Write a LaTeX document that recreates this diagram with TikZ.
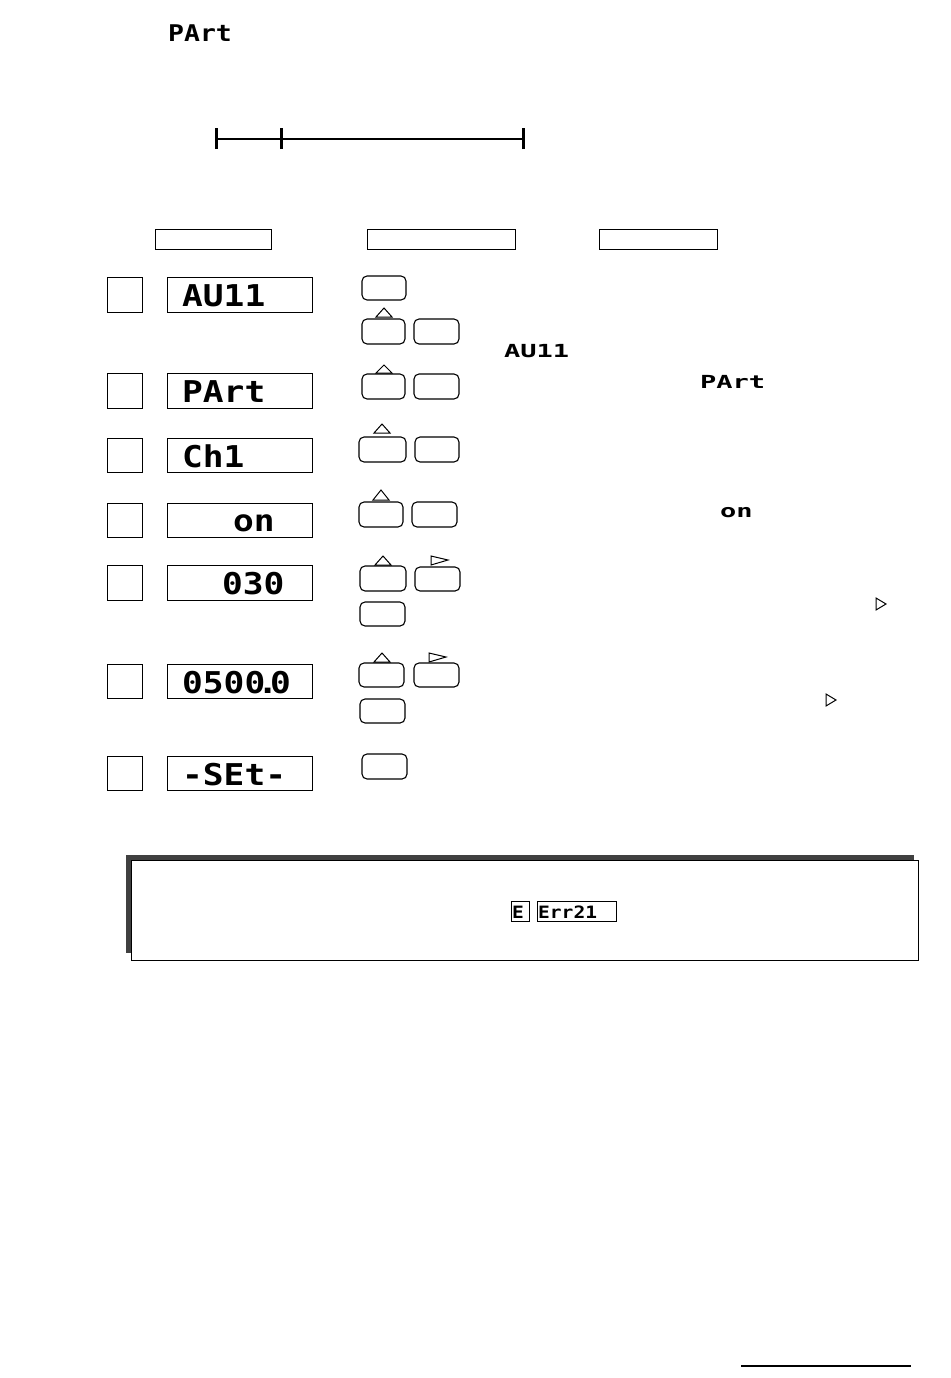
\documentclass[tikz,border=0pt]{standalone}
\usepackage{fontspec}
\usetikzlibrary{fit}
\newfontfamily\segfont[FakeStretch=1.15]{DejaVu Sans Mono}
\newfontfamily\segwide[FakeStretch=1.5]{DejaVu Sans Mono}
\begin{document}
\begin{tikzpicture}[x=1pt,y=-1pt,
  box/.style={draw, line width=1pt, inner sep=0pt},
  btn/.style={draw, line width=1.1pt, rounded corners=5pt, inner sep=0pt},
  tri/.style={draw, line width=1pt, line join=miter},
  segbig/.style={inner sep=0pt, anchor=base west, font={\segfont\bfseries\fontsize{30pt}{30pt}\selectfont}},
  segtop/.style={inner sep=0pt, anchor=base west, font={\segfont\bfseries\fontsize{23pt}{23pt}\selectfont}},
  segsmall/.style={inner sep=0pt, anchor=base west, font={\segwide\bfseries\fontsize{18pt}{18pt}\selectfont}},
  segtiny/.style={inner sep=0pt, anchor=base west, font={\segfont\bfseries\fontsize{17pt}{17pt}\selectfont}},
]
\useasboundingbox (0,0) rectangle (950,1378);

% title
\node[segtop] (title) at (168,42) {PArt};

% scale bar
\coordinate (s1) at (216,139);
\coordinate (s2) at (281,139);
\coordinate (s3) at (523,139);
\draw[line width=2pt] (s1) -- (s3);
\foreach \c in {s1,s2,s3}{
  \draw[line width=3pt] ([yshift=-10pt]\c) -- ([yshift=11pt]\c);
}

% header boxes
\node[box, fit={(155,229) (271,249)}] (h1) {};
\node[box, fit={(367,229) (515,249)}] (h2) {};
\node[box, fit={(599,229) (717,249)}] (h3) {};

% step squares and displays
\foreach \n/\ya/\yb in {1/277/312, 2/373/408, 3/438/472, 4/503/537, 5/565/600, 6/664/698, 7/756/790}{
  \node[box, fit={(107,\ya) (142,\yb)}] (sq\n) {};
  \node[box, fit={(167,\ya) (312,\yb)}] (disp\n) {};
}
\node[segbig] (t1) at (182,306) {AU11};
\node[segbig] (t2) at (182,402) {PArt};
\node[segbig] (t3) at (182,467) {Ch1};
\node[segbig] (t4) at (233,531) {on};
\node[segbig] (t5) at (222,594) {030};
\node[segbig] (t6) at (182,693) {0500\kern-8pt.\kern-8pt0};
\node[segbig] (t7) at (182,785) {-SEt-};

% buttons
\node[btn, fit={(362,276) (406,300)}] (b1) {};
\node[btn, fit={(362,319) (405,344)}] (b2a) {};
\node[btn, fit={(414,319) (459,344)}] (b2b) {};
\node[btn, fit={(362,374) (405,399)}] (b3a) {};
\node[btn, fit={(414,374) (459,399)}] (b3b) {};
\node[btn, fit={(359,437) (406,462)}] (b4a) {};
\node[btn, fit={(415,437) (459,462)}] (b4b) {};
\node[btn, fit={(359,502) (403,527)}] (b5a) {};
\node[btn, fit={(412,502) (457,527)}] (b5b) {};
\node[btn, fit={(360,566) (406,591)}] (b6a) {};
\node[btn, fit={(415,567) (460,591)}] (b6b) {};
\node[btn, fit={(360,602) (405,626)}] (b6c) {};
\node[btn, fit={(359,663) (404,687)}] (b7a) {};
\node[btn, fit={(414,663) (459,687)}] (b7b) {};
\node[btn, fit={(360,699) (405,723)}] (b7c) {};
\node[btn, fit={(362,754) (407,779)}] (b8) {};

% up triangles
\foreach \cx/\ty/\by in {384/308/317, 384/365/373, 382/424/433, 381/490/500, 383/556/565, 382/653/662}{
  \draw[tri] (\cx-8,\by) -- (\cx,\ty) -- (\cx+8,\by) -- cycle;
}
% right triangles
\draw[tri] (431,556) -- (448,560) -- (431,565) -- cycle;
\draw[tri] (429,653) -- (446,657) -- (429,662) -- cycle;
\draw[tri] (876,598) -- (886,604) -- (876,610) -- cycle;
\draw[tri] (826,694) -- (836,700) -- (826,706) -- cycle;

% inline display texts
\node[segsmall] (i1) at (504,357) {AU11};
\node[segsmall] (i2) at (700,388) {PArt};
\node[segsmall] (i3) at (720,517) {on};

% note box
\node[fill=black!75, inner sep=0pt, fit={(126,855) (914,953)}] (shadow) {};
\node[box, fill=white, fit={(131,860) (918,960)}] (note) {};
\node[box, fit={(511,901) (529,921)}] (ebox) {};
\node[segtiny] (etext) at (512,918) {E};
\node[box, fit={(537,901) (616,921)}] (errbox) {};
\node[segtiny] (errtext) at (538,918) {Err21};

% footer line
\coordinate (f1) at (741,1366);
\coordinate (f2) at (911,1366);
\draw[line width=1.3pt] (f1) -- (f2);
\end{tikzpicture}
\end{document}
